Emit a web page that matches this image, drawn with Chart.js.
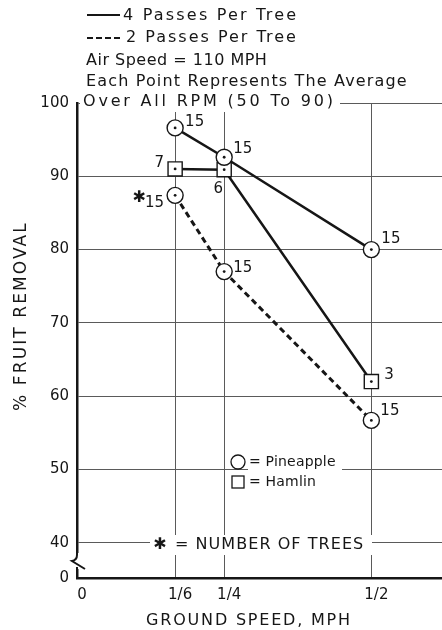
<!DOCTYPE html>
<html lang="en">
<head>
    <meta charset="UTF-8">
    <title>Fruit Removal vs Ground Speed</title>
    <style>
        body { margin: 0; background: #fff; }
        .chart-container { width: 442px; height: 630px; }
    </style>
</head>
<body>
    <div class="chart-container">
        <canvas id="removal-chart" width="442" height="630"></canvas>
    </div>

    <script src="https://cdn.jsdelivr.net/npm/chart.js"></script>
    <script>
        // ground speed (mph) and % fruit removal, averaged over 50-90 rpm
        var speeds = [1/6, 1/4, 1/2];
        var pineapple4 = [96.6, 92.6, 80];
        var hamlin4 = [91, 90.9, 62];
        var pineapple2 = [87.4, 77, 56.7];

        // number of trees behind each point
        var treesPineapple4 = [15, 15, 15];
        var treesHamlin4 = [7, 6, 3];
        var treesPineapple2 = [15, 15, 15];

        var xTicks = [0, 1/6, 1/4, 1/2];
        var xTickLabels = ['0', '1/6', '1/4', '1/2'];
        var yTicks = [40, 50, 60, 70, 80, 90, 100];
        var yBreak = 35.2;   // bottom of the broken axis, shown as 0

        var ink = '#161616';
        var gridInk = '#5a5a5a';
        var face = 'DejaVu Sans';

        function pts(ys) {
            return speeds.map(function (x, i) { return { x: x, y: ys[i] }; });
        }

        // where the tree count sits next to each marker
        var countPos = [
            [[10, -6, 'left'], [9, -8, 'left'], [10, -10, 'left']],
            [[-11, -6, 'right'], [-6, 19, 'center'], [13, -6, 'left']],
            [[-11, 8, 'right'], [9, -3, 'left'], [9, -9, 'left']]
        ];

        function textAt(c, str, x, y, size, align, spacing) {
            c.font = size + 'px "' + face + '"';
            c.letterSpacing = (spacing || 0) + 'px';
            c.textAlign = align || 'left';
            c.textBaseline = 'middle';
            c.fillStyle = ink;
            c.fillText(str, x, y);
            c.letterSpacing = '0px';
        }

        function whiteBox(c, x, y, w, h) {
            c.fillStyle = '#fff';
            c.fillRect(x, y, w, h);
        }

        var annotate = {
            id: 'annotate',
            afterDatasetsDraw: function (chart) {
                var c = chart.ctx;
                c.save();
                chart.data.datasets.forEach(function (ds, d) {
                    var meta = chart.getDatasetMeta(d);
                    meta.data.forEach(function (pt, i) {
                        // centre dot in each marker
                        c.fillStyle = ink;
                        c.beginPath();
                        c.arc(pt.x, pt.y, 1.4, 0, Math.PI * 2);
                        c.fill();
                        var p = countPos[d][i];
                        textAt(c, String(ds.trees[i]), pt.x + p[0], pt.y + p[1], 15, p[2]);
                        if (d === 2 && i === 0) {
                            textAt(c, '\u2731', pt.x - 36, pt.y + 2, 16, 'center');
                        }
                    });
                });
                c.restore();
            },
            afterDraw: function (chart) {
                var c = chart.ctx;
                var area = chart.chartArea;
                c.save();

                // line key
                c.strokeStyle = ink;
                c.lineWidth = 2;
                c.beginPath();
                c.moveTo(87, 15); c.lineTo(120, 15);
                c.stroke();
                c.setLineDash([6, 3]);
                c.beginPath();
                c.moveTo(87, 38); c.lineTo(122, 38);
                c.stroke();
                c.setLineDash([]);
                textAt(c, '4 Passes Per Tree', 123, 16, 16, 'left', 2.2);
                textAt(c, '2 Passes Per Tree', 126, 38, 16, 'left', 2);
                textAt(c, 'Air Speed = 110 MPH', 86, 61, 16, 'left', 0.5);
                textAt(c, 'Each Point Represents The Average', 86, 82, 16, 'left', 1.15);
                whiteBox(c, 80, 92, 260, 20);
                textAt(c, 'Over All RPM (50 To 90)', 83, 102, 16, 'left', 2.8);

                // marker key
                c.strokeStyle = ink;
                c.lineWidth = 1.3;
                c.beginPath();
                c.arc(238, 462, 7, 0, Math.PI * 2);
                c.stroke();
                c.strokeRect(232, 476, 12, 12);
                whiteBox(c, 248, 453, 94, 17);
                textAt(c, '= Pineapple', 249, 462, 14, 'left', 0.2);
                textAt(c, '= Hamlin', 249, 482, 14, 'left', 0.2);

                whiteBox(c, 150, 535, 222, 20);
                textAt(c, '\u2731', 160, 545, 16, 'center');
                textAt(c, '= NUMBER OF TREES', 175, 545, 16, 'left', 1.05);

                // axis titles
                textAt(c, 'GROUND SPEED, MPH', 249, 621, 16, 'center', 1.8);
                c.save();
                c.translate(22, 316);
                c.rotate(-Math.PI / 2);
                textAt(c, '% FRUIT REMOVAL', 0, 0, 17, 'center', 2.1);
                c.restore();

                // break in the value axis
                var x0 = area.left;
                whiteBox(c, x0 - 3, 553, 6, 16);
                c.strokeStyle = ink;
                c.lineWidth = 2;
                c.beginPath();
                c.moveTo(x0, 550);
                c.lineTo(x0, 555);
                c.quadraticCurveTo(x0, 560, x0 - 5, 561);
                c.lineTo(x0 + 8, 569);
                c.moveTo(x0, 567);
                c.lineTo(x0, area.bottom);
                c.stroke();
                c.restore();
            }
        };

        var ctx = document.getElementById('removal-chart').getContext('2d');

        var chart = new Chart(ctx, {
            type: 'scatter',
            data: {
                datasets: [{
                    label: '4 Passes Per Tree, Pineapple',
                    data: pts(pineapple4),
                    trees: treesPineapple4,
                    showLine: true,
                    borderColor: ink,
                    borderWidth: 2.5,
                    pointStyle: 'circle',
                    pointRadius: 8,
                    pointBorderWidth: 1.4,
                    pointBorderColor: ink,
                    pointBackgroundColor: '#fff'
                }, {
                    label: '4 Passes Per Tree, Hamlin',
                    data: pts(hamlin4),
                    trees: treesHamlin4,
                    showLine: true,
                    borderColor: ink,
                    borderWidth: 2.5,
                    pointStyle: 'rect',
                    pointRadius: 10,
                    pointBorderWidth: 1.4,
                    pointBorderColor: ink,
                    pointBackgroundColor: '#fff'
                }, {
                    label: '2 Passes Per Tree, Pineapple',
                    data: pts(pineapple2),
                    trees: treesPineapple2,
                    showLine: true,
                    borderColor: ink,
                    borderWidth: 3,
                    borderDash: [6, 4],
                    pointStyle: 'circle',
                    pointRadius: 8,
                    pointBorderWidth: 1.4,
                    pointBorderColor: ink,
                    pointBackgroundColor: '#fff'
                }]
            },
            options: {
                responsive: false,
                animation: false,
                layout: {
                    autoPadding: false,
                    padding: { top: 103, right: 0, left: 0, bottom: 0 }
                },
                plugins: {
                    legend: { display: false },
                    tooltip: { enabled: false }
                },
                scales: {
                    x: {
                        type: 'linear',
                        min: 0,
                        max: 0.62,
                        afterFit: function (s) {
                            s.height = 52;
                            s.paddingLeft = 0;
                            s.paddingRight = 0;
                        },
                        afterBuildTicks: function (s) {
                            s.ticks = xTicks.map(function (v) { return { value: v }; });
                        },
                        ticks: {
                            callback: function (v, i) { return xTickLabels[i]; },
                            font: { family: face, size: 15 },
                            color: ink,
                            padding: 8,
                            labelOffset: 5
                        },
                        grid: {
                            color: function (c) { return c.tick && c.tick.value === 0 ? 'rgba(0,0,0,0)' : gridInk; },
                            lineWidth: 1,
                            drawTicks: false
                        },
                        border: { color: ink, width: 2.5 }
                    },
                    y: {
                        min: yBreak,
                        max: 100,
                        afterFit: function (s) {
                            s.width = 77;
                            s.paddingTop = 0;
                            s.paddingBottom = 0;
                        },
                        afterBuildTicks: function (s) {
                            s.ticks = [yBreak].concat(yTicks).map(function (v) { return { value: v }; });
                        },
                        ticks: {
                            callback: function (v) { return v === yBreak ? '0' : String(v); },
                            font: { family: face, size: 15 },
                            color: ink,
                            padding: 8
                        },
                        grid: {
                            color: function (c) { return c.tick && c.tick.value === yBreak ? 'rgba(0,0,0,0)' : gridInk; },
                            lineWidth: 1,
                            drawTicks: false
                        },
                        border: { color: ink, width: 2.5 }
                    }
                }
            },
            plugins: [annotate]
        });
    </script>
</body>
</html>
